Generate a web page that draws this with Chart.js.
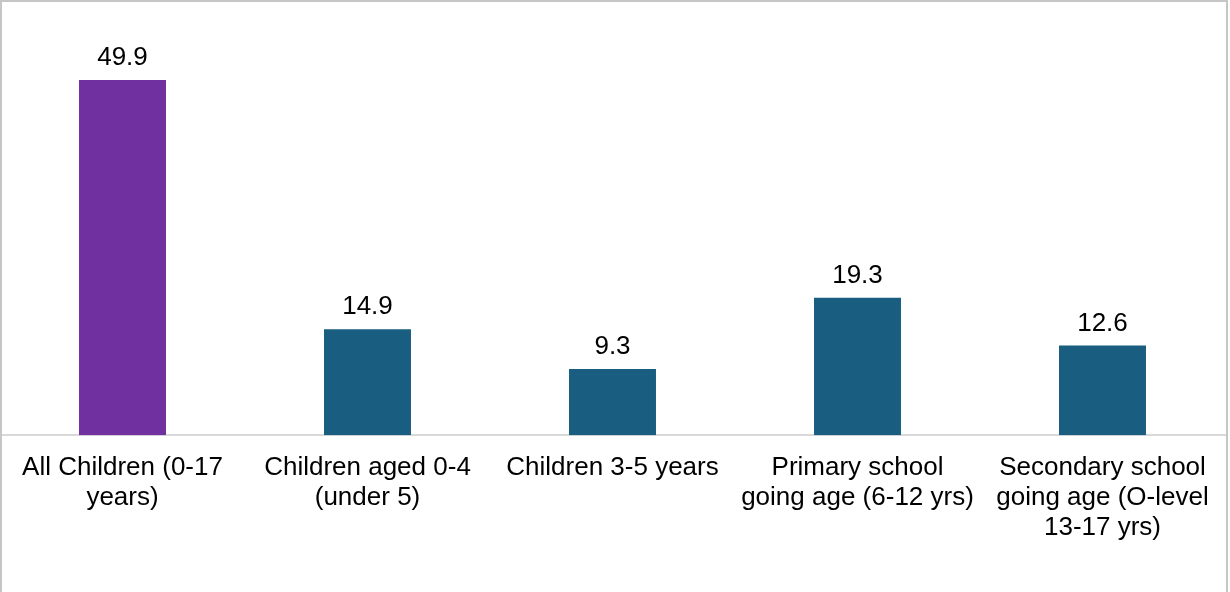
<!DOCTYPE html>
<html>
<head>
<meta charset="utf-8">
<script src="https://cdn.jsdelivr.net/npm/chart.js@4/dist/chart.umd.min.js"></script>
<style>
  body { margin: 0; background: #fff; }
  #wrap { position: relative; width: 1230px; height: 592px; }
  #frame { position: absolute; left: 0; top: 0; width: 1228px; height: 592px; box-sizing: border-box; border: 2px solid #c6c6c6; border-bottom: none; pointer-events: none; }
</style>
</head>
<body>
<div id="wrap">
  <canvas id="chart" width="1230" height="592"></canvas>
  <div id="frame"></div>
</div>
<script>
const categories = [
    ['All Children (0-17', 'years)'],
    ['Children aged 0-4', '(under 5)'],
    'Children 3-5 years',
    ['Primary school', 'going age (6-12 yrs)'],
    ['Secondary school', 'going age (O-level', '13-17 yrs)']
];
const values = [49.9, 14.9, 9.3, 19.3, 12.6];
const barColors = ['#7030a0', '#195e80', '#195e80', '#195e80', '#195e80'];

const fontFamily = '"Liberation Sans", Arial, sans-serif';

// draws the value above each bar
const valueLabels = {
    id: 'valueLabels',
    afterDatasetsDraw(chart) {
        const ctx = chart.ctx;
        const meta = chart.getDatasetMeta(0);
        ctx.save();
        ctx.font = '26px ' + fontFamily;
        ctx.fillStyle = '#000';
        ctx.textAlign = 'center';
        ctx.textBaseline = 'alphabetic';
        meta.data.forEach((bar, i) => {
            ctx.fillText(values[i].toFixed(1), bar.x, bar.y - 15);
        });
        ctx.restore();
    }
};

new Chart(document.getElementById('chart'), {
    type: 'bar',
    data: {
        labels: categories,
        datasets: [{
            data: values,
            backgroundColor: barColors,
            borderWidth: 0,
            categoryPercentage: 1,
            barPercentage: 0.355
        }]
    },
    options: {
        responsive: false,
        animation: false,
        layout: { padding: { top: 8, right: 5, bottom: 31, left: 0 } },
        plugins: {
            legend: { display: false },
            tooltip: { enabled: false }
        },
        scales: {
            x: {
                grid: { display: false, drawTicks: false },
                border: { display: true, color: '#d9d9d9', width: 2 },
                ticks: {
                    color: '#000',
                    padding: 18,
                    maxRotation: 0,
                    autoSkip: false,
                    font: { family: fontFamily, size: 26, lineHeight: 1.15 }
                }
            },
            y: {
                display: false,
                min: 0,
                max: 60
            }
        }
    },
    plugins: [valueLabels]
});
</script>
</body>
</html>
